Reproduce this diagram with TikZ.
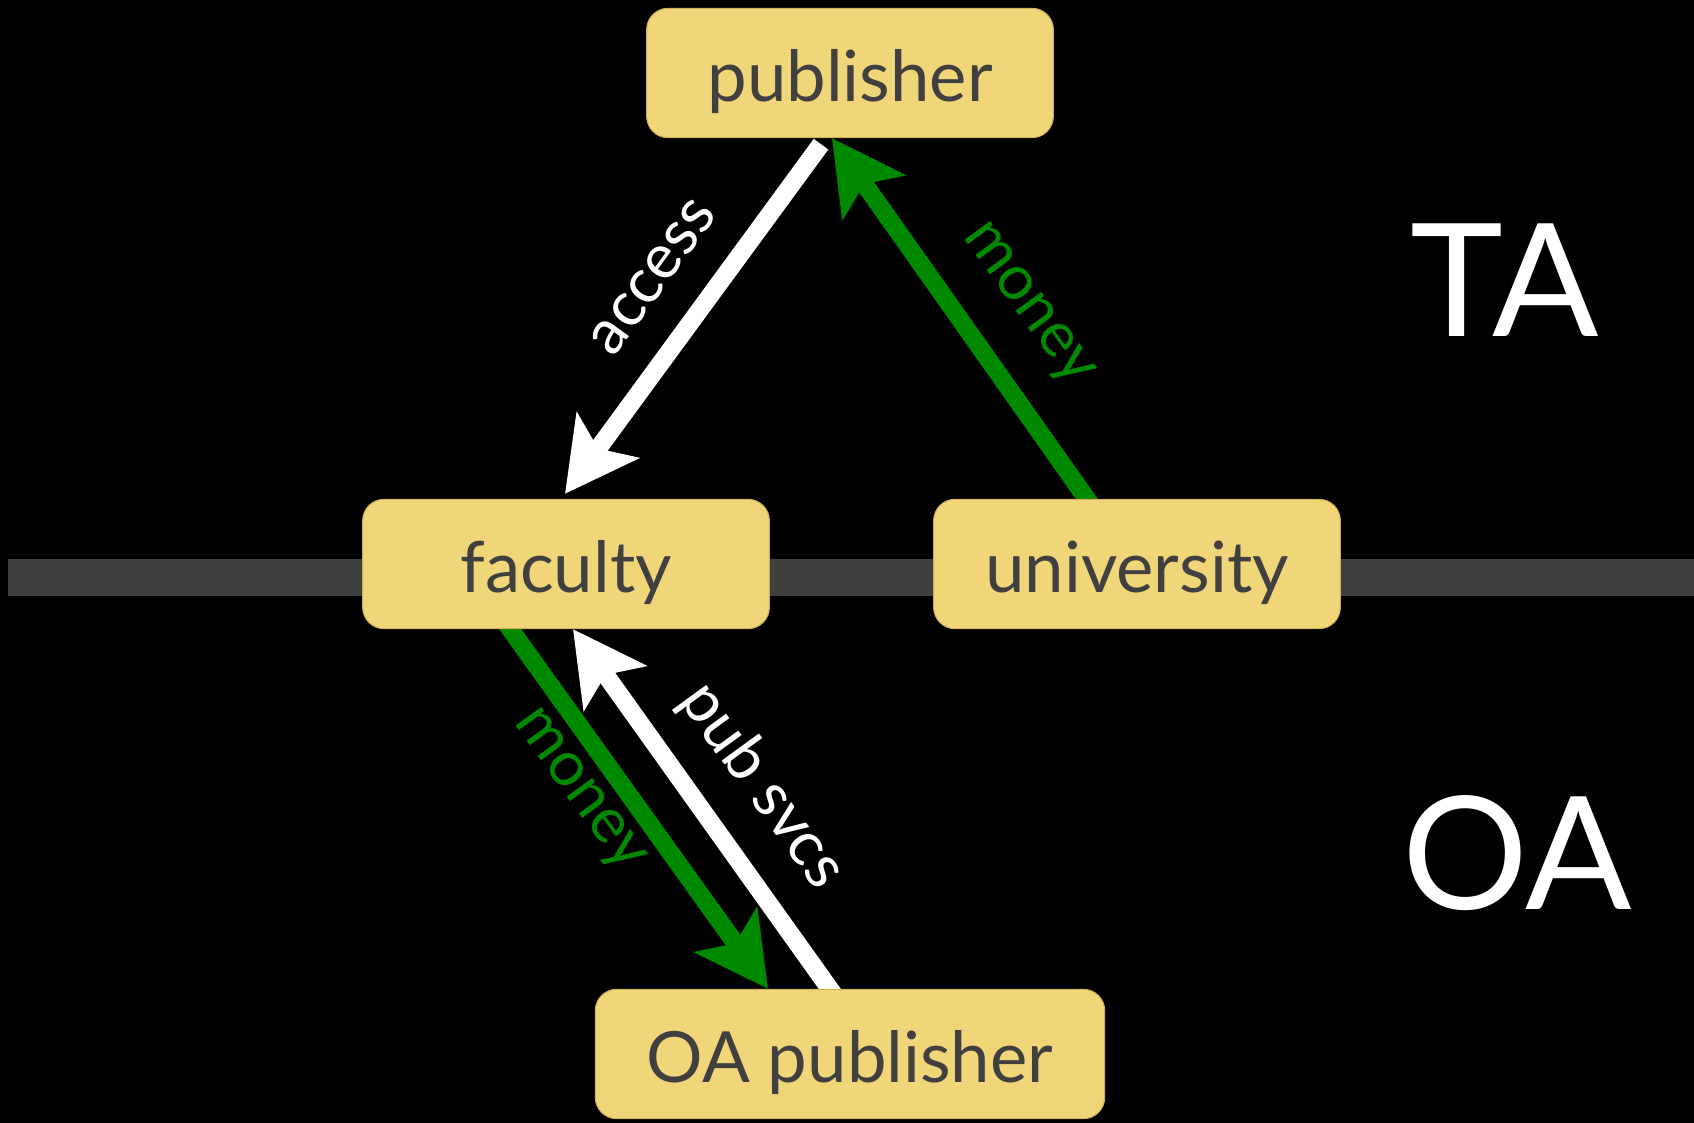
\documentclass[tikz,border=0pt]{standalone}
\usepackage{fontspec}
\setmainfont{Lato}
\usetikzlibrary{arrows.meta,calc}

\definecolor{boxYellow}{RGB}{240,214,120}
\definecolor{boxEdge}{RGB}{205,178,90}
\definecolor{boxText}{RGB}{64,64,64}
\definecolor{barGray}{RGB}{64,64,64}
\definecolor{moneyGreen}{RGB}{0,136,0}

\pgfdeclarelayer{back}
\pgfdeclarelayer{mid}
\pgfsetlayers{back,mid,main}

\tikzset{every picture/.style={line width=0.75pt}}
\tikzset{
	box/.style={rounded corners=16pt, fill=boxYellow, draw=boxEdge, line width=0.8pt,
		text=boxText, font=\fontsize{53}{62}\selectfont, inner sep=0pt,
		minimum width=305pt, minimum height=97pt, text height=43pt, text depth=0pt},
	flow/.style={line width=13.5pt, -{Stealth[length=54pt,width=57pt,inset=12pt]}},
	lbl/.style={font=\fontsize{47}{55}\selectfont, inner sep=0pt},
	big/.style={text=white, font=\fontsize{118}{130}\selectfont, inner sep=0pt}
}

\begin{document}
\begin{tikzpicture}[x=0.75pt,y=0.75pt,yscale=-1,xscale=1]
	\useasboundingbox (0,0) rectangle (1694,1123);
	
	% Boxes
	\node (pub) at (850,73) [box] {publisher};
	\node (fac) at (566,564) [box] {faculty};
	\node (uni) at (1137,564) [box] {university};
	\node (oapub) at (850,1054) [box, minimum width=382pt] {OA publisher};
	
	% Text Node
	\node (ta) at (1505,280) [big] {TA};
	% Text Node
	\node (oa) at (1517,853) [big] {OA};
	
	% Text Node
	\node (accessLbl) at (653,277) [lbl, text=white, rotate=54] {access};
	% Text Node
	\node (moneyTop) at (1026,306) [lbl, text=moneyGreen, rotate=-54] {money};
	% Text Node
	\node (moneyBot) at (577,792) [lbl, text=moneyGreen, rotate=-54] {money};
	% Text Node
	\node (svcsLbl) at (762,786) [lbl, text=white, rotate=-54] {pub svcs};
	
	\begin{pgfonlayer}{back}
		%Shape: Rectangle
		\fill [black] (0,0) rectangle (1694,1123);
		%Shape: Rectangle
		\fill [barGray] (8,559) rectangle (1694,596);
	\end{pgfonlayer}
	
	\begin{pgfonlayer}{mid}
		%Straight Lines
		\draw [flow, white] ($(pub.south)+(-29,6)$) -- ($(fac.north)+(-1,-5)$);
		%Straight Lines
		\draw [flow, moneyGreen] ($(uni.north)+(-46,6)$) -- ($(pub.south)+(-18,0)$);
		%Straight Lines
		\draw [flow, moneyGreen] ($(fac.south)+(-60,-6)$) -- ($(oapub.north)+(-82,0)$);
		%Straight Lines
		\draw [flow, white] ($(oapub.north)+(-16,6)$) -- ($(fac.south)+(7,0)$);
	\end{pgfonlayer}
	
\end{tikzpicture}
\end{document}
